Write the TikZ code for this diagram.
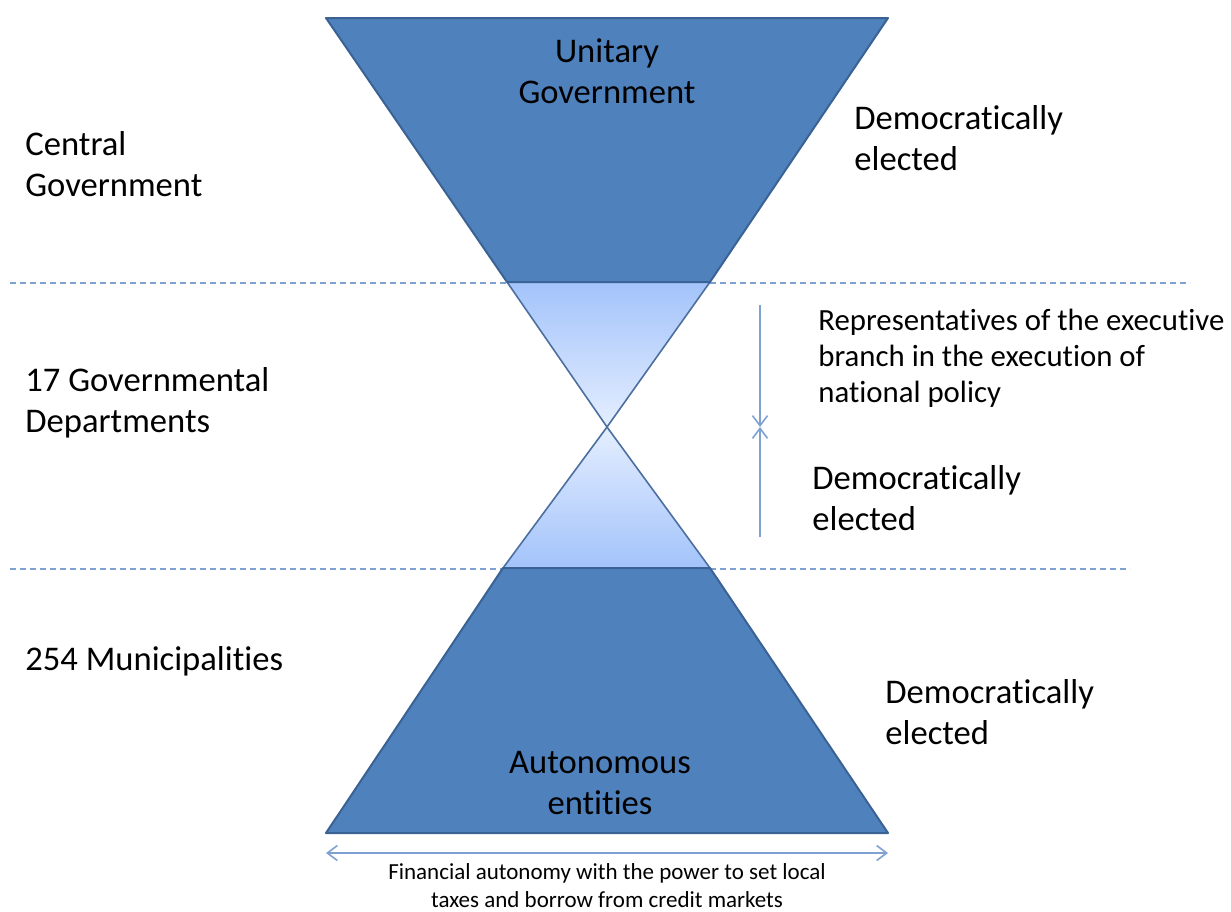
\documentclass[tikz,border=0pt]{standalone}
\usepackage{fontspec}
\setmainfont{Carlito}[Ligatures=NoCommon]
\usepackage{tikz}
\usetikzlibrary{arrows.meta}

\definecolor{darkfill}{HTML}{4F81BD}
\definecolor{darkline}{HTML}{3B6294}
\definecolor{paleedge}{HTML}{4C6F9F}
\definecolor{palebase}{HTML}{A3C3FA}
\definecolor{paleapex}{HTML}{E4EEFF}
\definecolor{guide}{HTML}{7EA1D2}

\begin{document}
\begin{tikzpicture}[x=0.5pt,y=-0.5pt,
    >={Straight Barb[length=5pt,width=7.5pt]},
    every node/.style={inner sep=0pt},
    label/.style={anchor=west, align=left, font=\fontsize{17.3}{20.5}\selectfont},
    inlabel/.style={anchor=center, align=center, font=\fontsize{17.3}{20.5}\selectfont},
    smalllabel/.style={anchor=west, align=left, font=\fontsize{15.4}{18}\selectfont},
    notelabel/.style={anchor=center, align=center, font=\fontsize{11.5}{14}\selectfont},
    divider/.style={guide, line width=0.6pt, dash pattern=on 3pt off 2pt},
    level/.style={fill=darkfill, draw=darkline, line width=1pt, line join=round},
    span/.style={guide, line width=0.8pt}]
  \useasboundingbox (0,0) rectangle (1231,911);

  \coordinate (apex) at (607,427);
  \coordinate (TL) at (326,18);   \coordinate (TR) at (888,18);
  \coordinate (UL) at (507,282);  \coordinate (UR) at (710,282);
  \coordinate (DL) at (503,568);  \coordinate (DR) at (710,568);
  \coordinate (BL) at (326,833);  \coordinate (BR) at (888,833);

  \coordinate (div1a) at (10,283);  \coordinate (div1b) at (1190,283);
  \coordinate (div2a) at (10,569);  \coordinate (div2b) at (1130,569);
  \draw[divider] (div1a) -- (div1b);
  \draw[divider] (div2a) -- (div2b);

  \shade[top color=palebase, bottom color=paleapex] (UL) -- (UR) -- (apex) -- cycle;
  \shade[top color=paleapex, bottom color=palebase] (apex) -- (DR) -- (DL) -- cycle;
  \draw[paleedge, line width=0.8pt] (UL) -- (apex) -- (UR);
  \draw[paleedge, line width=0.8pt] (DL) -- (apex) -- (DR);

  \draw[level] (TL) -- (TR) -- (UR) -- (UL) -- cycle;
  \draw[level] (DL) -- (DR) -- (BR) -- (BL) -- cycle;

  \coordinate (vtop) at (760,305);
  \coordinate (vmid) at (760,427);
  \coordinate (vbot) at (760,537);
  \draw[span, ->] (vtop) -- (vmid);
  \draw[span, ->] (vbot) -- (vmid);

  \coordinate (hl) at (326,853);
  \coordinate (hr) at (888,853);
  \draw[span, <->] (hl) -- (hr);

  \node[inlabel] (unitary) at (607,71) {Unitary\\Government};
  \node[inlabel] (autonomous) at (600,783) {Autonomous\\entities};

  \node[label] (central) at (25,164) {Central\\Government};
  \node[label] (departments) at (25,403) {17 Governmental\\Departments};
  \node[label] (municipalities) at (25,661) {254 Municipalities};

  \node[label] (electedtop) at (854,138) {Democratically\\elected};
  \node[label] (electedmid) at (812,498) {Democratically\\elected};
  \node[label] (electedbot) at (885,712) {Democratically\\elected};
  \node[smalllabel] (representatives) at (818,358)
    {Representatives of the executive\\branch in the execution of\\national policy};

  \node[notelabel] (finance) at (607,886)
    {Financial autonomy with the power to set local\\taxes and borrow from credit markets};
\end{tikzpicture}
\end{document}
